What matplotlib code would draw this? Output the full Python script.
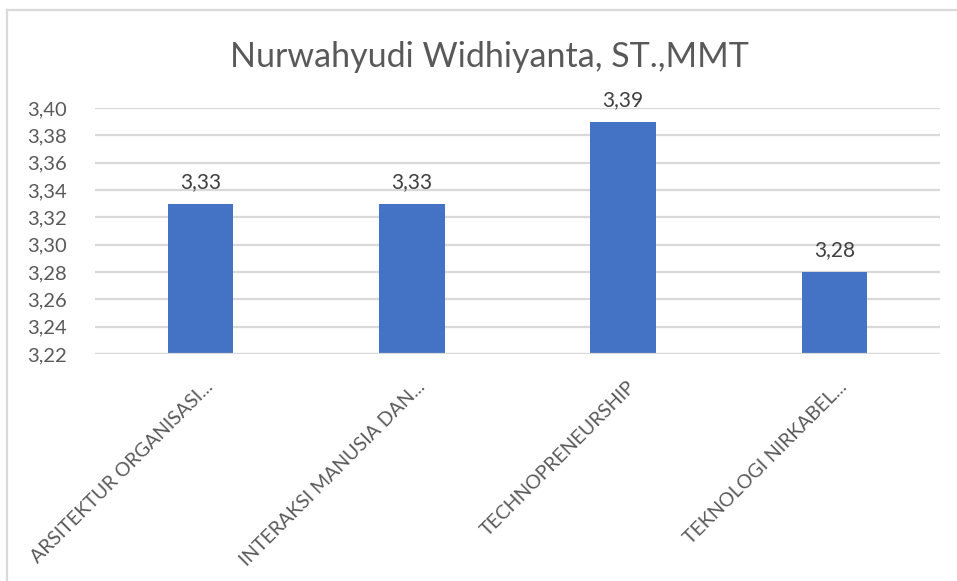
import matplotlib
matplotlib.use("Agg")
import matplotlib.pyplot as plt
from matplotlib.lines import Line2D
from matplotlib.transforms import ScaledTranslation

categories = ["ARSITEKTUR ORGANISASI...", "INTERAKSI MANUSIA DAN...", "TECHNOPRENEURSHIP", "TEKNOLOGI NIRKABEL..."]
values = [3.33, 3.33, 3.39, 3.28]
yticks = [3.22, 3.24, 3.26, 3.28, 3.30, 3.32, 3.34, 3.36, 3.38, 3.40]
title = "Nurwahyudi Widhiyanta, ST.,MMT"

FONT = ["Lato", "DejaVu Sans"]
plt.rcParams['font.family'] = FONT
TXT = "#595959"

W, H = 957, 581
fig = plt.figure(figsize=(W / 100, H / 100), dpi=100)
ax = fig.add_axes([95 / W, 1 - 354 / H, (940 - 95) / W, (354 - 108) / H])

x = list(range(len(categories)))
ax.bar(x, values, width=0.31, color="#4472C4", zorder=3)
ax.set_xlim(-0.5, len(categories) - 0.5)
ax.set_ylim(yticks[0], yticks[-1])
ax.set_yticks(yticks)
ax.set_yticklabels([f"{v:.2f}".replace(".", ",") for v in yticks], fontsize=14.5, color=TXT)
ax.yaxis.grid(True, color="#D9D9D9", linewidth=1.6, zorder=0)
ax.tick_params(axis="y", length=0, pad=20)
ax.tick_params(axis="x", length=0, pad=0)
for s in ax.spines.values():
    s.set_visible(False)
ax.axhline(yticks[0], color="#D9D9D9", linewidth=1.6, zorder=4)

ax.set_xticks(x)
ax.set_xticklabels(categories, rotation=45, ha="right", va="center",
                   rotation_mode="anchor", fontsize=14, color=TXT)
off = ScaledTranslation(10 / 100, -30 / 100, fig.dpi_scale_trans)
for lbl in ax.get_xticklabels():
    lbl.set_transform(lbl.get_transform() + off)

for xi, v in zip(x, values):
    ax.annotate(f"{v:.2f}".replace(".", ","), (xi, v), xytext=(0, 11.5),
                textcoords="offset points", ha="center", va="baseline",
                fontsize=15, color="#404040")

fig.text(489 / W, 1 - 67 / H, title, ha="center", va="baseline", fontsize=24.5, color=TXT)

fig.add_artist(Line2D([7 / W, 1], [1 - 10 / H, 1 - 10 / H], transform=fig.transFigure, color="#D9D9D9", linewidth=1.6))
fig.add_artist(Line2D([7 / W, 7 / W], [0, 1 - 10 / H], transform=fig.transFigure, color="#D9D9D9", linewidth=1.6))

fig.savefig("out.png", dpi=100, facecolor="white")
